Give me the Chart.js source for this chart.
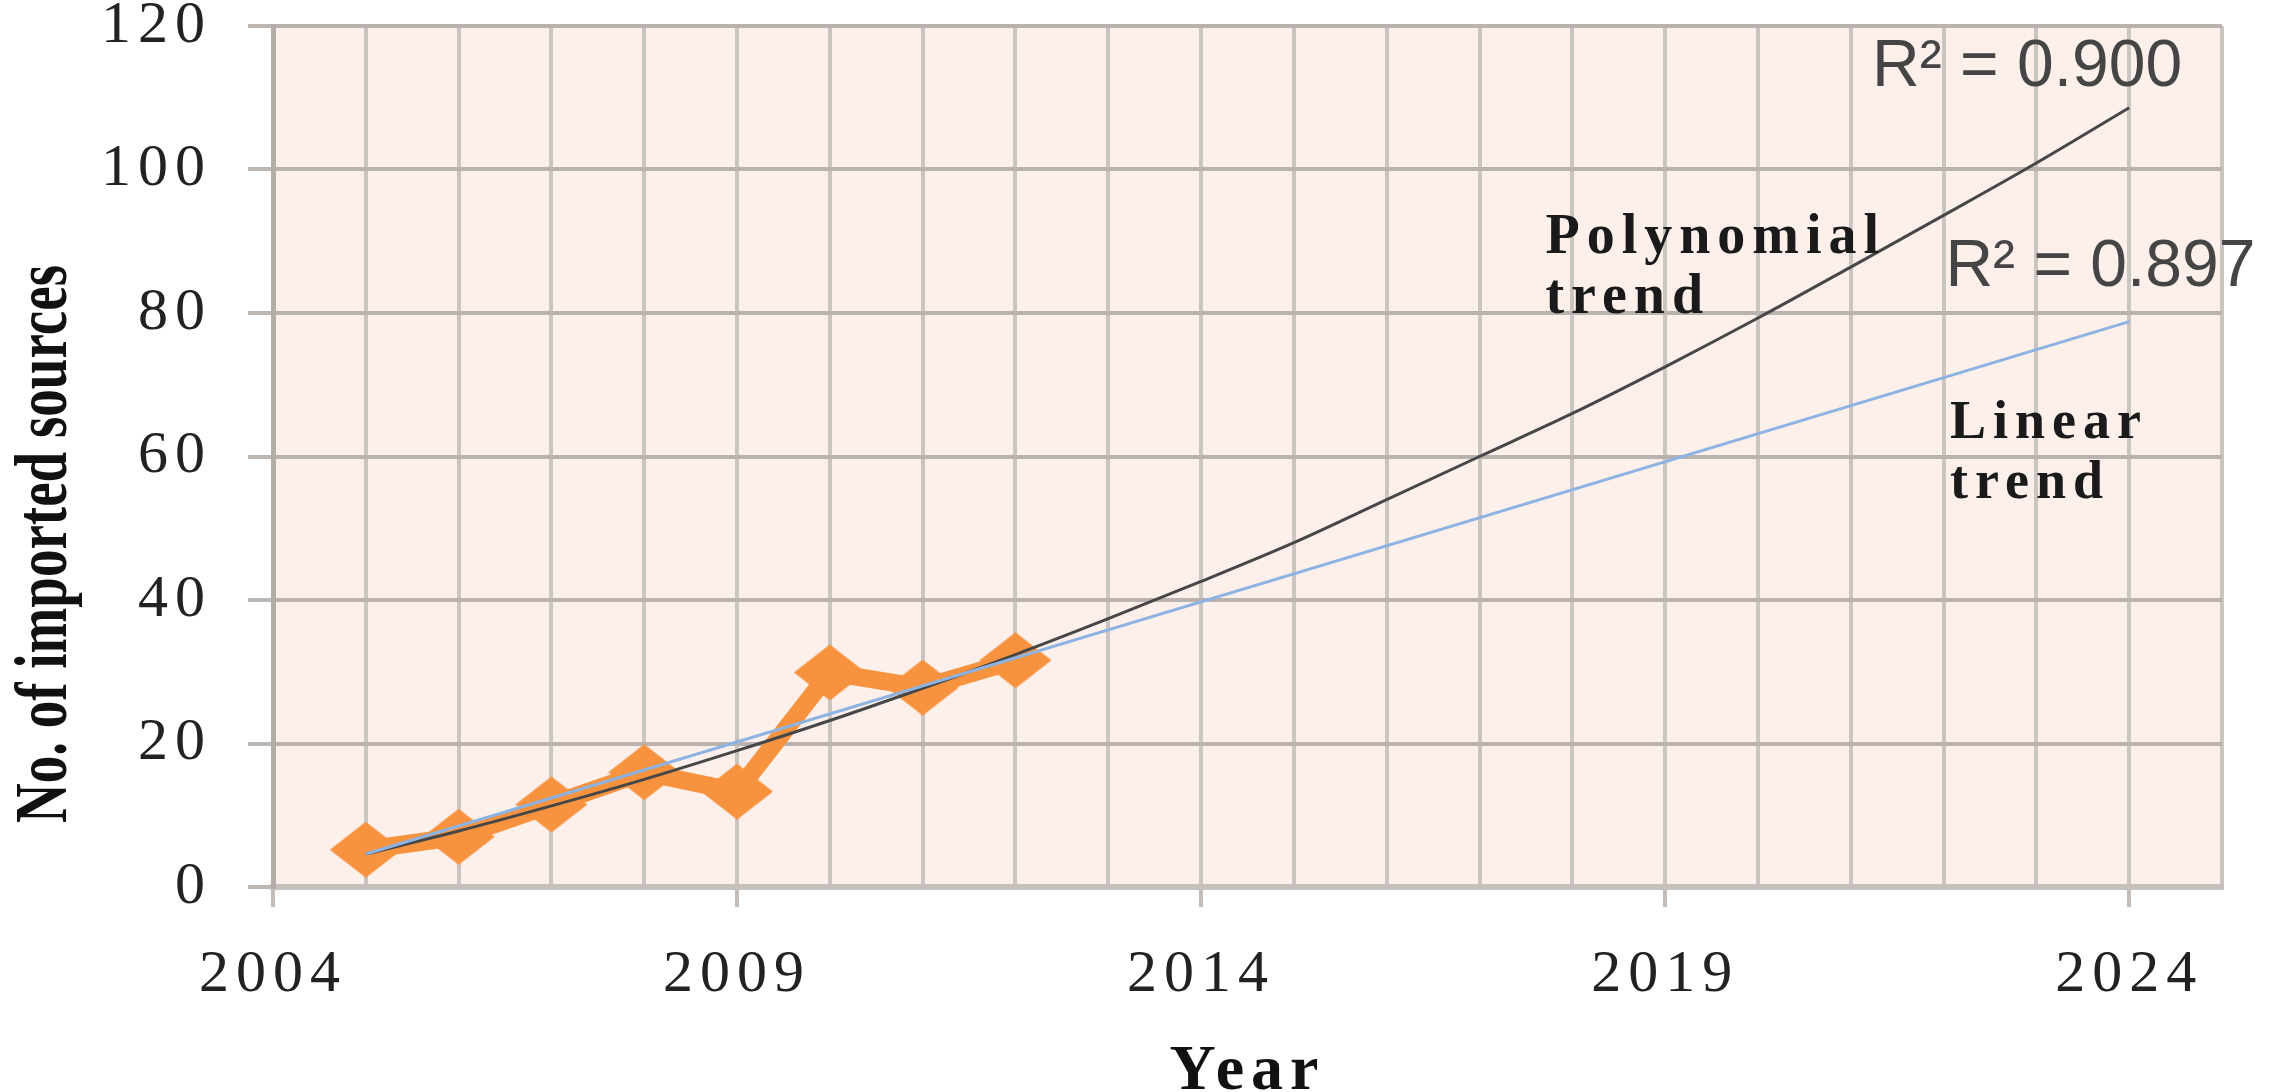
<!DOCTYPE html>
<html>
<head>
<meta charset="utf-8">
<script src="https://cdn.jsdelivr.net/npm/chart.js@4.4.1/dist/chart.umd.min.js"></script>
<style>
    html, body { margin: 0; padding: 0; background: #fff; }
    #chart { display: block; }
</style>
</head>
<body>
<canvas id="chart" width="2295" height="1092"></canvas>
<script>
const years = [2005, 2006, 2007, 2008, 2009, 2010, 2011, 2012];
const importedSources = [5.2, 7.0, 11.5, 16.0, 13.3, 29.9, 27.8, 31.6];

// Trend lines
const polyYears = [2005, 2006, 2007, 2008, 2009, 2010, 2011, 2012, 2013, 2014,
                   2015, 2016, 2017, 2018, 2019, 2020, 2021, 2022, 2023, 2024];
const polyTrend = [4.6, 7.8, 11.3, 15.0, 19.0, 23.2, 27.7, 32.4, 37.4, 42.6,
                   48.0, 54.0, 60.0, 66.0, 72.5, 79.3, 86.4, 93.6, 100.9, 108.6];
const linearYears = [2005, 2024];
const linearTrend = [4.6, 78.8];

// Axes
const gridYears = [2004, 2005, 2006, 2007, 2008, 2009, 2010, 2011, 2012, 2013, 2014,
                   2015, 2016, 2017, 2018, 2019, 2020, 2021, 2022, 2023, 2024, 2025];
const xTickLabels = [2004, 2009, 2014, 2019, 2024];
const yTicks = [0, 20, 40, 60, 80, 100, 120];

const toPoints = (xs, ys) => xs.map((x, i) => ({ x: x, y: ys[i] }));

// the markers in the picture are wider than tall
const diamond = document.createElement('canvas');
diamond.width = 72;
diamond.height = 56;
(() => {
    const c = diamond.getContext('2d');
    c.fillStyle = '#F7923F';
    c.beginPath();
    c.moveTo(36, 0);
    c.lineTo(72, 28);
    c.lineTo(36, 56);
    c.lineTo(0, 28);
    c.closePath();
    c.fill();
})();

// Plot background, letter spacing for the stretched serif labels
const plotArea = {
    id: 'plotArea',
    beforeDraw(chart) {
        const { ctx, chartArea: a } = chart;
        ctx.save();
        ctx.fillStyle = '#FDF0EB';
        ctx.fillRect(a.left, a.top, a.right - a.left, a.bottom - a.top);
        ctx.restore();
        ctx.letterSpacing = '7px';
    },
    beforeDatasetsDraw(chart) {
        chart.ctx.letterSpacing = '0px';
    }
};

// Trend labels, R² values and the y axis title
const notes = {
    id: 'notes',
    afterDraw(chart) {
        const { ctx, scales: { x, y } } = chart;
        const put = (text, xv, yv, font, color, spacing) => {
            ctx.save();
            ctx.font = font;
            ctx.fillStyle = color;
            ctx.letterSpacing = spacing;
            ctx.textAlign = 'left';
            ctx.textBaseline = 'alphabetic';
            ctx.fillText(text, x.getPixelForValue(xv), y.getPixelForValue(yv));
            ctx.restore();
        };
        put('R\u00B2 = 0.900', 2021.23, 111.6, '66px "Liberation Sans"', '#454545', '0px');
        put('R\u00B2 = 0.897', 2022.02, 83.8, '66px "Liberation Sans"', '#454545', '0px');
        put('Polynomial', 2017.71, 88.4, 'bold 56px "Liberation Serif"', '#1a1a1a', '7px');
        put('trend', 2017.71, 80.0, 'bold 56px "Liberation Serif"', '#1a1a1a', '7px');
        put('Linear', 2022.07, 62.6, 'bold 54px "Liberation Serif"', '#1a1a1a', '7px');
        put('trend', 2022.07, 54.2, 'bold 54px "Liberation Serif"', '#1a1a1a', '7px');

        ctx.save();
        ctx.translate(66, 544);
        ctx.scale(1.35, 1);
        ctx.rotate(-Math.PI / 2);
        ctx.font = 'bold 55px "Liberation Serif"';
        ctx.fillStyle = '#111';
        ctx.textAlign = 'center';
        ctx.textBaseline = 'alphabetic';
        ctx.fillText('No. of imported sources', 0, 0);
        ctx.restore();
    }
};

new Chart(document.getElementById('chart'), {
    type: 'scatter',
    data: {
        datasets: [
            {
                label: 'Linear trend',
                data: toPoints(linearYears, linearTrend),
                showLine: true,
                borderColor: '#8DB3E2',
                borderWidth: 3,
                pointRadius: 0,
                order: 0
            },
            {
                label: 'Polynomial trend',
                data: toPoints(polyYears, polyTrend),
                showLine: true,
                borderColor: '#474747',
                borderWidth: 3,
                cubicInterpolationMode: 'monotone',
                pointRadius: 0,
                order: 1
            },
            {
                label: 'Imported sources',
                data: toPoints(years, importedSources),
                showLine: true,
                borderColor: '#F7923F',
                borderWidth: 18,
                pointStyle: diamond,
                pointRadius: 28,
                order: 2
            }
        ]
    },
    options: {
        responsive: false,
        animation: false,
        devicePixelRatio: 1,
        layout: { autoPadding: false, padding: { left: 0, top: 26, right: 73, bottom: 0 } },
        plugins: {
            legend: { display: false },
            tooltip: { enabled: false }
        },
        scales: {
            x: {
                type: 'linear',
                min: 2004,
                max: 2025,
                afterBuildTicks: (scale) => {
                    scale.ticks = gridYears.map(v => ({ value: v }));
                },
                afterFit: (scale) => { scale.height = 205; },
                grid: {
                    color: '#CBC5C2',
                    lineWidth: 4,
                    tickLength: 20,
                    tickWidth: 4,
                    tickColor: (c) => (c.tick && xTickLabels.includes(c.tick.value)) ? '#C3BDBA' : 'rgba(0,0,0,0)'
                },
                border: { color: '#C6C0BD', width: 6 },
                ticks: {
                    autoSkip: false,
                    maxRotation: 0,
                    padding: 38,
                    color: '#222',
                    font: { family: '"Liberation Serif"', size: 60, lineHeight: 1 },
                    callback: (v) => xTickLabels.includes(v) ? String(v) : ''
                },
                title: {
                    display: true,
                    text: 'Year',
                    color: '#111',
                    padding: 0,
                    font: { family: '"Liberation Serif"', size: 64, weight: 'bold', lineHeight: 0.6 }
                }
            },
            y: {
                min: 0,
                max: 120,
                afterBuildTicks: (scale) => {
                    scale.ticks = yTicks.map(v => ({ value: v }));
                },
                afterFit: (scale) => {
                    scale.width = 273;
                    scale.paddingTop = 0;
                    scale.paddingBottom = 0;
                },
                grid: {
                    color: '#B9B2AF',
                    lineWidth: 4,
                    tickLength: 25,
                    tickColor: '#BDB7B4'
                },
                border: { color: '#B3ADAA', width: 5 },
                ticks: {
                    padding: 36,
                    color: '#222',
                    font: { family: '"Liberation Serif"', size: 60, lineHeight: 0.8 }
                }
            }
        }
    },
    plugins: [plotArea, notes]
});
</script>
</body>
</html>
